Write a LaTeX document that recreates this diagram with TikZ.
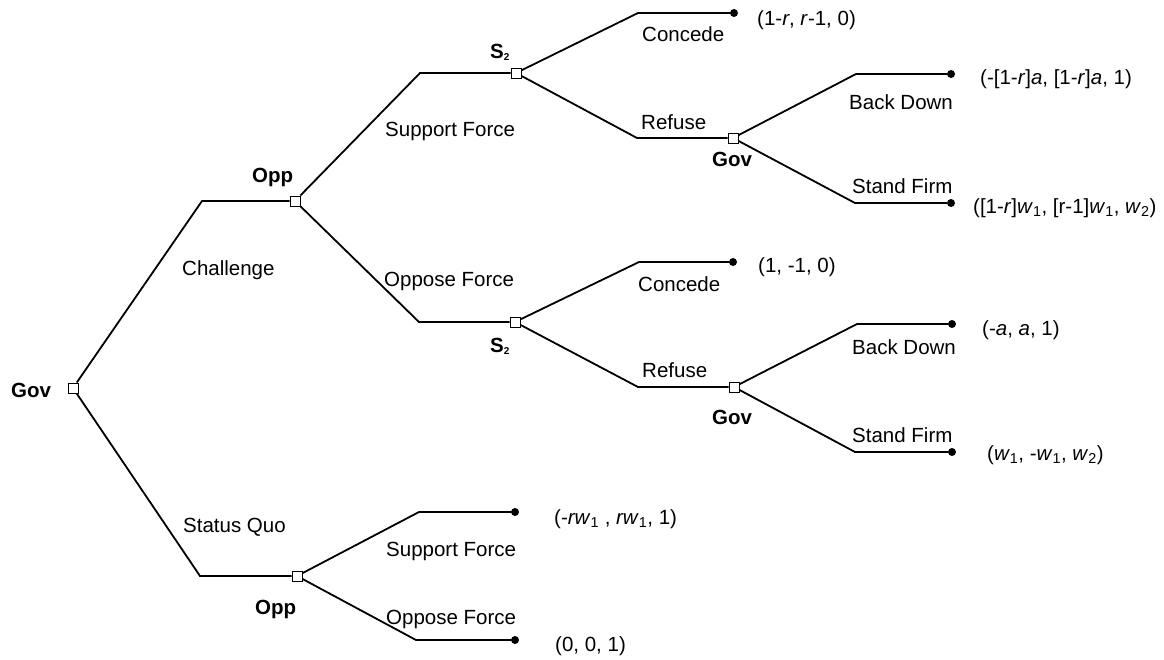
\documentclass[tikz,border=0pt]{standalone}
\usepackage{fontspec}
\setmainfont{Liberation Sans}
\newcommand{\subtwo}{\raisebox{-2.5pt}{\fontsize{10}{11}\selectfont 2}}
\begin{document}
\begin{tikzpicture}[x=1pt,y=-1pt,
  branch/.style={line width=1.8pt},
  dec/.style={draw, line width=1pt, fill=white, minimum size=10pt, inner sep=0pt},
  term/.style={circle, fill=black, minimum size=8pt, inner sep=0pt},
  lab/.style={anchor=base west, inner sep=0pt, font=\fontsize{20.5}{24}\selectfont},
  plab/.style={anchor=base west, inner sep=0pt, font=\fontsize{20.5}{24}\selectfont\bfseries}
]
\useasboundingbox (0,0) rectangle (1164,659);

% corners
\coordinate (c1) at (202,201);
\coordinate (c2) at (200,576);
\coordinate (c3) at (420,73);
\coordinate (c4) at (419,322);
\coordinate (c5) at (638,13);
\coordinate (c6) at (637,138);
\coordinate (c7) at (856,74);
\coordinate (c8) at (855,203);
\coordinate (c9) at (639,262);
\coordinate (c10) at (638,387);
\coordinate (c11) at (857,324);
\coordinate (c12) at (855,452);
\coordinate (c13) at (419,512);
\coordinate (c14) at (416,640);

% decision nodes
\node[dec] (g0) at (73,388) {};
\node[dec] (o1) at (295,201) {};
\node[dec] (o2) at (297,576) {};
\node[dec] (s1) at (516,73) {};
\node[dec] (s2) at (515,322) {};
\node[dec] (g1) at (733,138) {};
\node[dec] (g2) at (734,387) {};

% terminal nodes
\node[term] (t1) at (734,13) {};
\node[term] (t2) at (951,74) {};
\node[term] (t3) at (951,203) {};
\node[term] (t4) at (733,262) {};
\node[term] (t5) at (952,324) {};
\node[term] (t6) at (952,452) {};
\node[term] (t7) at (515,512) {};
\node[term] (t8) at (515,640) {};

% branches
\draw[branch] (g0) -- (c1) -- (o1);
\draw[branch] (g0) -- (c2) -- (o2);
\draw[branch] (o1) -- (c3) -- (s1);
\draw[branch] (o1) -- (c4) -- (s2);
\draw[branch] (s1) -- (c5) -- (t1);
\draw[branch] (s1) -- (c6) -- (g1);
\draw[branch] (g1) -- (c7) -- (t2);
\draw[branch] (g1) -- (c8) -- (t3);
\draw[branch] (s2) -- (c9) -- (t4);
\draw[branch] (s2) -- (c10) -- (g2);
\draw[branch] (g2) -- (c11) -- (t5);
\draw[branch] (g2) -- (c12) -- (t6);
\draw[branch] (o2) -- (c13) -- (t7);
\draw[branch] (o2) -- (c14) -- (t8);

% redraw decision squares on top
\foreach \n in {g0,o1,o2,s1,s2,g1,g2} {\node[dec] at (\n) {};}

% player labels
\node[plab] (lg0) at (11,397) {Gov};
\node[plab] (lo1) at (252,182) {Opp};
\node[plab] (lo2) at (255,614) {Opp};
\node[plab] (ls1) at (490,58) {S\subtwo};
\node[plab] (ls2) at (490,352) {S\subtwo};
\node[plab] (lg1) at (712,166) {Gov};
\node[plab] (lg2) at (712,424) {Gov};

% action labels
\node[lab] (a1) at (182,275) {Challenge};
\node[lab] (a2) at (183,532) {Status Quo};
\node[lab] (a3) at (385,136) {Support Force};
\node[lab] (a4) at (384,286) {Oppose Force};
\node[lab] (a5) at (642,41) {Concede};
\node[lab] (a6) at (641,129) {Refuse};
\node[lab] (a7) at (849,109) {Back Down};
\node[lab] (a8) at (852,193) {Stand Firm};
\node[lab] (a9) at (638,291) {Concede};
\node[lab] (a10) at (642,377) {Refuse};
\node[lab] (a11) at (852,354) {Back Down};
\node[lab] (a12) at (852,442) {Stand Firm};
\node[lab] (a13) at (386,556) {Support Force};
\node[lab] (a14) at (386,624) {Oppose Force};

% payoffs
\node[lab] (p1) at (757,25) {(1-\textit{r}, \textit{r}-1, 0)};
\node[lab] (p2) at (980,84) {(-[1-\textit{r}]\textit{a}, [1-\textit{r}]\textit{a}, 1)};
\node[lab] (p3) at (973,213) {([1-\textit{r}]\textit{w}\textsubscript{1}, [r-1]\textit{w}\textsubscript{1}, \textit{w}\textsubscript{2})};
\node[lab] (p4) at (758,272) {(1, -1, 0)};
\node[lab] (p5) at (982,335) {(-\textit{a}, \textit{a}, 1)};
\node[lab] (p6) at (987,460) {(\textit{w}\textsubscript{1}, -\textit{w}\textsubscript{1}, \textit{w}\textsubscript{2})};
\node[lab] (p7) at (554,524) {(-\textit{rw}\textsubscript{1} , \textit{rw}\textsubscript{1}, 1)};
\node[lab] (p8) at (555,651) {(0, 0, 1)};
\end{tikzpicture}
\end{document}
